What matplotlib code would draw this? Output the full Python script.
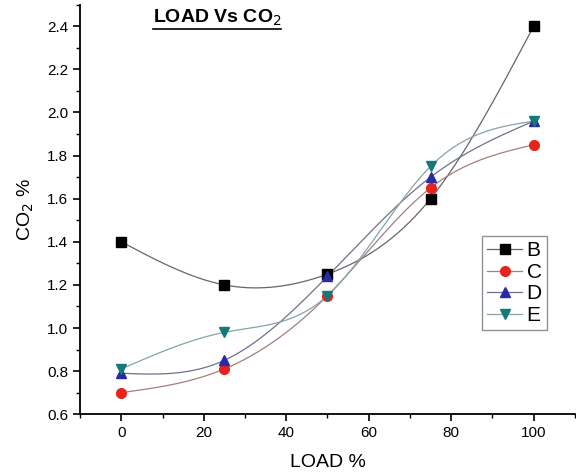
import numpy as np
import matplotlib
matplotlib.use("Agg")
import matplotlib.pyplot as plt
from matplotlib.lines import Line2D

plt.rcParams["font.family"] = ["Liberation Sans", "DejaVu Sans"]

load = [0, 25, 50, 75, 100]
co2_B = [1.40, 1.20, 1.25, 1.60, 2.40]
co2_C = [0.70, 0.81, 1.15, 1.65, 1.85]
co2_D = [0.79, 0.85, 1.24, 1.70, 1.96]
co2_E = [0.81, 0.98, 1.15, 1.75, 1.96]

series = [
    ("B", co2_B, "s", "black", "#666666"),
    ("C", co2_C, "o", "#e8221c", "#a08080"),
    ("D", co2_D, "^", "#2a2aa8", "#70708f"),
    ("E", co2_E, "v", "#137a78", "#88a4a4"),
]


def natural_spline(x, y, xs):
    # natural cubic spline through the data points (for the smooth line only)
    x = np.asarray(x, float)
    y = np.asarray(y, float)
    n = len(x)
    h = np.diff(x)
    A = np.zeros((n, n))
    r = np.zeros(n)
    A[0, 0] = A[-1, -1] = 1
    for i in range(1, n - 1):
        A[i, i - 1] = h[i - 1]
        A[i, i] = 2 * (h[i - 1] + h[i])
        A[i, i + 1] = h[i]
        r[i] = 3 * ((y[i + 1] - y[i]) / h[i] - (y[i] - y[i - 1]) / h[i - 1])
    c = np.linalg.solve(A, r)
    out = np.empty_like(xs)
    for k, xv in enumerate(xs):
        i = min(max(np.searchsorted(x, xv) - 1, 0), n - 2)
        dx = xv - x[i]
        b = (y[i + 1] - y[i]) / h[i] - h[i] * (2 * c[i] + c[i + 1]) / 3
        d = (c[i + 1] - c[i]) / (3 * h[i])
        out[k] = y[i] + b * dx + c[i] * dx**2 + d * dx**3
    return out


fig = plt.figure(figsize=(5.76, 4.75), dpi=100)
ax = fig.add_axes([0.139, 0.128, 0.859, 0.862])

xs = np.linspace(load[0], load[-1], 300)
handles = []
for name, vals, mk, col, lcol in series:
    ax.plot(xs, natural_spline(load, vals, xs), color=lcol, lw=0.9)
    ax.plot(load, vals, mk, color=col, ms=7, mec=col, zorder=3)
    handles.append(Line2D([], [], color=lcol, lw=0.9, marker=mk, ms=7,
                          mfc=col, mec=col, label=name))

ax.set_xlim(-10, 110)
ax.set_ylim(0.6, 2.5)
ax.set_xticks([0, 20, 40, 60, 80, 100])
ax.set_xticks(np.arange(-10, 111, 10), minor=True)
ax.set_yticks(np.arange(0.6, 2.41, 0.2))
ax.set_yticks(np.arange(0.6, 2.51, 0.1), minor=True)
ax.yaxis.set_major_formatter(plt.FormatStrFormatter("%.1f"))
ax.tick_params(direction="out", length=5, width=1.2, labelsize=11)
ax.tick_params(which="minor", direction="out", length=3, width=1)
for s in ["top", "right"]:
    ax.spines[s].set_visible(False)
for s in ["left", "bottom"]:
    ax.spines[s].set_linewidth(1.3)

ax.set_xlabel("LOAD %", fontsize=14, labelpad=10)
ax.set_ylabel("CO$_2$ %", fontsize=14, labelpad=8)

t = fig.text(0.265, 0.953, "LOAD Vs CO$_2$", fontsize=14, fontweight="bold",
             ha="left", va="baseline")
fig.canvas.draw()
bb = t.get_window_extent().transformed(fig.transFigure.inverted())
fig.add_artist(Line2D([bb.x0, bb.x1], [bb.y0 - 0.002, bb.y0 - 0.002],
                      color="black", lw=1.2, transform=fig.transFigure))

leg = ax.legend(handles=handles, loc="upper left", bbox_to_anchor=(0.812, 0.435),
                fontsize=15, frameon=True, fancybox=False, handlelength=1.7,
                handletextpad=0.2, labelspacing=0.12, borderpad=0.25,
                borderaxespad=0)
leg.get_frame().set_edgecolor("#777777")
leg.get_frame().set_linewidth(1.0)

fig.savefig("out.png", dpi=100)
